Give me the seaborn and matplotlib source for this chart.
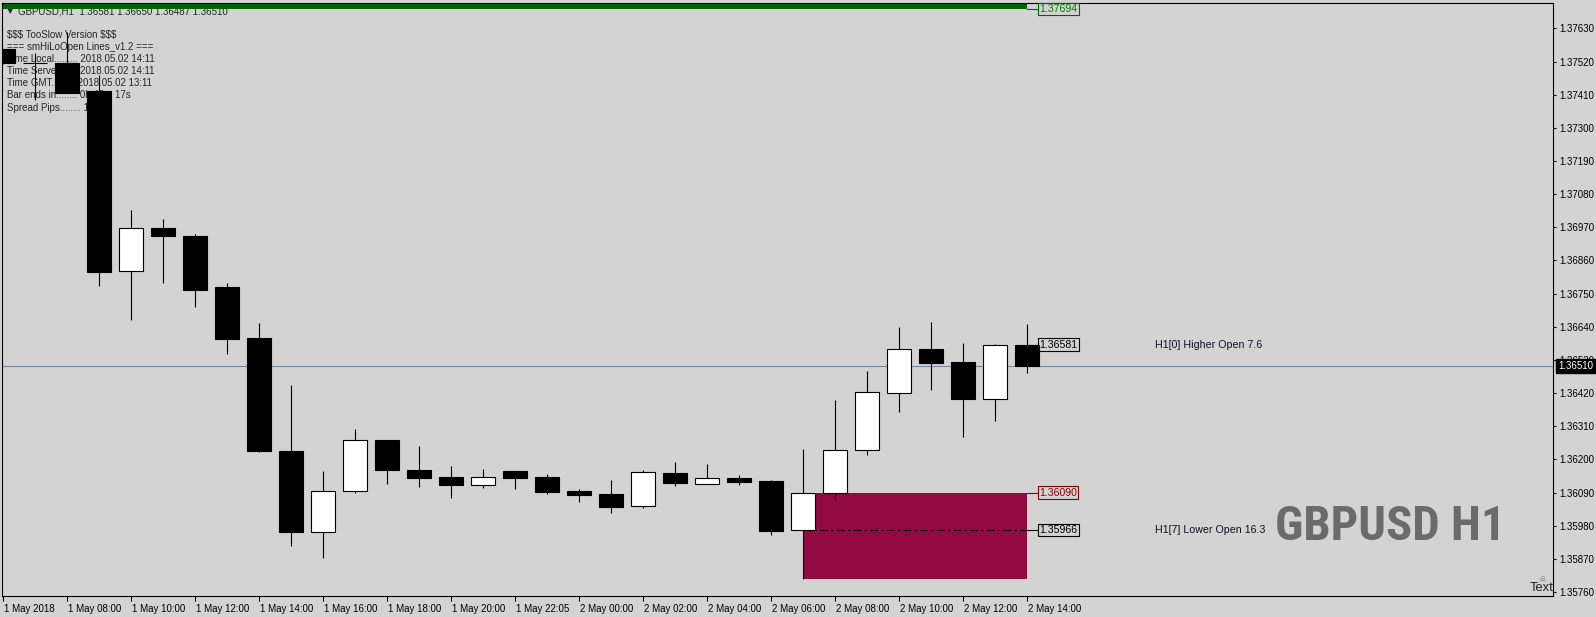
import numpy as np
import pandas as pd
import seaborn as sns
import matplotlib
matplotlib.use("Agg")
import matplotlib.pyplot as plt
import matplotlib.transforms as mtransforms
from matplotlib import font_manager

# Velas H1 GBPUSD (1 May 06:00 -> 2 May 14:00)
opens = [1.37561, 1.37515, 1.37514, 1.37424, 1.36826, 1.36967, 1.36942, 1.36772,
         1.36603, 1.36229, 1.35960, 1.36095, 1.36264, 1.36165, 1.36141, 1.36116,
         1.36161, 1.36141, 1.36095, 1.36085, 1.36044, 1.36155, 1.36119, 1.36138,
         1.36128, 1.35966, 1.36087, 1.36230, 1.36419, 1.36565, 1.36522, 1.36399,
         1.36581]
highs = [1.37563, 1.37549, 1.37619, 1.37476, 1.37028, 1.36998, 1.36948, 1.36785,
         1.36653, 1.36447, 1.36161, 1.36301, 1.36265, 1.36244, 1.36178, 1.36168,
         1.36162, 1.36151, 1.36102, 1.36131, 1.36164, 1.36191, 1.36185, 1.36148,
         1.36131, 1.36234, 1.36397, 1.36493, 1.36639, 1.36656, 1.36586, 1.36582,
         1.36650]
lows = [1.37513, 1.37393, 1.37415, 1.36776, 1.36663, 1.36786, 1.36707, 1.36551,
        1.36225, 1.35913, 1.35874, 1.36087, 1.36118, 1.36109, 1.36073, 1.36106,
        1.36102, 1.36086, 1.36060, 1.36023, 1.36039, 1.36113, 1.36119, 1.36116,
        1.35950, 1.35802, 1.36065, 1.36214, 1.36358, 1.36431, 1.36275, 1.36328,
        1.36487]
closes = [1.37515, 1.37514, 1.37417, 1.36823, 1.36967, 1.36942, 1.36763, 1.36601,
          1.36229, 1.35960, 1.36095, 1.36264, 1.36165, 1.36139, 1.36116, 1.36140,
          1.36139, 1.36093, 1.36083, 1.36043, 1.36157, 1.36122, 1.36137, 1.36126,
          1.35963, 1.36088, 1.36230, 1.36423, 1.36565, 1.36521, 1.36399, 1.36581,
          1.36510]

x_labels = ["1 May 2018", "1 May 08:00", "1 May 10:00", "1 May 12:00", "1 May 14:00",
            "1 May 16:00", "1 May 18:00", "1 May 20:00", "1 May 22:05", "2 May 00:00",
            "2 May 02:00", "2 May 04:00", "2 May 06:00", "2 May 08:00", "2 May 10:00",
            "2 May 12:00", "2 May 14:00"]
y_ticks = [1.35760, 1.35870, 1.35980, 1.36090, 1.36200, 1.36310, 1.36420, 1.36530,
           1.36640, 1.36750, 1.36860, 1.36970, 1.37080, 1.37190, 1.37300, 1.37410,
           1.37520, 1.37630]

# Niveles del indicador
bid = 1.36510
day_high = 1.37694
higher_open = 1.36581
lower_open = 1.35966
zone_top = 1.36090
zone_bottom = 1.35802
zone_start = 25

info_lines = ["$$$ TooSlow Version $$$",
              "=== smHiLoOpen Lines_v1.2 ===",
              "Time Local......... 2018.05.02 14:11",
              "Time Server....... 2018.05.02 14:11",
              "Time GMT......... 2018.05.02 13:11",
              "Bar ends in........ 0h 48m 17s",
              "Spread Pips........ 1.8"]

df = pd.DataFrame({"open": opens, "high": highs, "low": lows, "close": closes})
df["x"] = np.arange(len(df))
df["up"] = df["close"] >= df["open"]

bg = "#D3D3D3"
sns.set_style("white", rc={"axes.facecolor": bg, "figure.facecolor": bg,
                           "axes.edgecolor": "black", "axes.linewidth": 0.8})
plt.rcParams["font.family"] = ["Liberation Sans", "DejaVu Sans"]

# Fuente estrecha para el titulo grande si existe
fm_names = {f.name for f in font_manager.fontManager.ttflist}
if "Liberation Sans Narrow" in fm_names:
    big_font, big_size, big_cap = "Liberation Sans Narrow", 34, 34
elif "Roboto Condensed" in fm_names:
    big_font, big_size, big_cap = "Roboto Condensed", 35, 35
else:
    big_font, big_size, big_cap = "Liberation Sans", 29, 29

W, H = 1596, 617
fig = plt.figure(figsize=(W / 100, H / 100), dpi=100)
ax = fig.add_axes([2 / W, 21 / H, 1551 / W, 593 / H])
last = df["x"].iloc[-1]
y0, y1 = 1.357465, 1.377146

def yp(py):
    # pixel vertical -> precio
    return y0 + (596 - py) / 593 * (y1 - y0)

# Lineas y zona
ax.axhline(bid, color="#778899", lw=0.8, zorder=2)
ax.fill_between([zone_start, last], zone_bottom, zone_top, color="#920A40", lw=0, zorder=1.5)
ax.fill_between([-1, last], 1.37696, 1.3773, color="#006400", lw=0, zorder=2)
ax.plot([zone_start, last], [lower_open, lower_open], color="black", lw=0.8,
        ls=(0, (7, 3, 2, 3)), zorder=2.5)

# Velas
ax.vlines(df["x"], df["low"], df["high"], color="black", lw=0.8, zorder=3)
body_bottom = np.minimum(df["open"], df["close"])
body_h = (df["close"] - df["open"]).abs()
ax.bar(df["x"], body_h, bottom=body_bottom, width=0.76,
       color=np.where(df["up"], "white", "black"), edgecolor="black",
       linewidth=0.8, zorder=4)

# Etiquetas de niveles
def level_label(y, txt, tcol, ecol):
    ax.plot([last, last + 0.34], [y, y], color=ecol, lw=0.8, zorder=5)
    ax.text(last + 0.38, y, txt, color=tcol, fontsize=7.6, ha="left", va="center",
            zorder=6, bbox=dict(boxstyle="square,pad=0.12", fc="none", ec=ecol, lw=0.8))

level_label(day_high, f"{day_high:.5f}", "#008000", "#006400")
level_label(higher_open, f"{higher_open:.5f}", "black", "black")
level_label(zone_top, f"{zone_top:.5f}", "#8B0000", "#8B0000")
level_label(lower_open, f"{lower_open:.5f}", "black", "black")

ax.text(36.0, higher_open, "H1[0] Higher Open 7.6", fontsize=7.7, color="#111122",
        ha="left", va="center")
ax.text(36.0, lower_open, "H1[7] Lower Open 16.3", fontsize=7.7, color="#111122",
        ha="left", va="center")
ax.text(1272 / 32, yp(523 + big_cap / 2), "GBPUSD H1", fontsize=big_size,
        fontweight="bold", color="#6B6B6B", family=[big_font, "Liberation Sans"],
        ha="left", va="baseline")

# Texto informativo (debajo de las velas)
def px(x, y):
    return (x - 2) / 1551, (596 - y) / 593

ax.text(*px(7, 11), "▼", fontsize=6, ha="left", va="center", transform=ax.transAxes,
        family=["DejaVu Sans"], zorder=1)
ax.text(*px(18, 11), "GBPUSD,H1  1.36581 1.36650 1.36487 1.36510", fontsize=7,
        ha="left", va="center", transform=ax.transAxes, zorder=1)
for k, line in enumerate(info_lines):
    ax.text(*px(7, 35 + 12.1 * k), line, fontsize=7, ha="left", va="center",
            transform=ax.transAxes, zorder=1, parse_math=False)

ax.text(*px(1542, 579), "☠", fontsize=6, color="#808080", ha="center", va="center",
        transform=ax.transAxes, family=["DejaVu Sans"])
ax.text(*px(1553, 588), "Text", fontsize=9.3, color="#202020", ha="right",
        va="center", transform=ax.transAxes)

# Ejes
ax.set_xlim(-1 / 32, 1550 / 32)
ax.set_ylim(y0, y1)
ax.set_xticks(df["x"].iloc[::2])
ax.set_xticklabels(x_labels)
ax.yaxis.tick_right()
ax.set_yticks(y_ticks)
ax.set_yticklabels([f"{v:.5f}" for v in y_ticks])
ax.tick_params(axis="x", direction="out", length=3.5, width=0.8, pad=2.5,
               labelsize=7, colors="black", bottom=True)
ax.tick_params(axis="y", direction="out", length=2.5, width=0.8, pad=2,
               labelsize=7, colors="black", right=True, left=False)
shift = mtransforms.ScaledTranslation(1 / 72, 0, fig.dpi_scale_trans)
for lbl in ax.get_xticklabels():
    lbl.set_horizontalalignment("left")
    lbl.set_transform(lbl.get_transform() + shift)
for s in ax.spines.values():
    s.set_visible(True)
    s.set_color("black")

# Precio actual
trans = mtransforms.blended_transform_factory(ax.transAxes, ax.transData)
ax.text(1.0035, bid, f"{bid:.5f}", transform=trans, fontsize=7, color="white",
        ha="left", va="center", zorder=10, clip_on=False,
        bbox=dict(boxstyle="square,pad=0.25", fc="black", ec="black"))

fig.savefig("out.png", dpi=100, facecolor=bg)
